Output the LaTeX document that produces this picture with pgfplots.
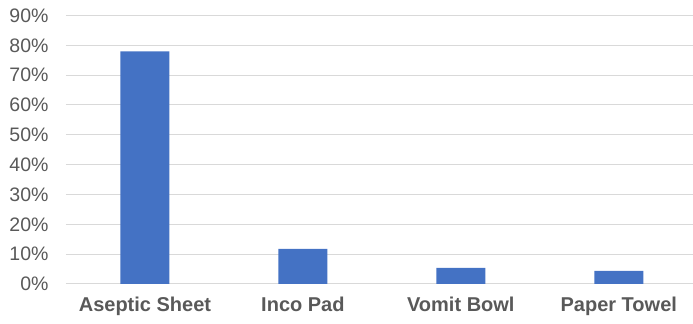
\documentclass[border=0pt]{standalone}
\usepackage{pgfplots}
\pgfplotsset{compat=1.18}
\usepackage{fontspec}
\setmainfont{Liberation Sans}
\definecolor{barblue}{HTML}{4472C4}
\definecolor{gridgray}{HTML}{D9D9D9}
\definecolor{textgray}{HTML}{595959}
\begin{document}
\begin{tikzpicture}
\begin{axis}[
  scale only axis,
  width=627bp, height=268.5bp,
  xmin=-0.5, xmax=3.47,
  ymin=0, ymax=90,
  ytick={0,10,...,90},
  yticklabel={\pgfmathprintnumber{\tick}\%},
  /pgf/number format/assume math mode=true,
  xtick=data,
  xticklabels={Aseptic Sheet, Inco Pad, Vomit Bowl, Paper Towel},
  axis line style={draw=none},
  major tick length=0pt,
  ymajorgrids,
  grid style={gridgray, line width=1bp},
  yticklabel style={font=\fontsize{19.5bp}{22bp}\selectfont, text=textgray, xshift=-14bp},
  xticklabel style={font=\fontsize{20bp}{22bp}\selectfont\bfseries, text=textgray, yshift=-9bp},
  ybar,
  bar width=0.31,
  clip=false,
]
\addplot[fill=barblue, draw=none] coordinates {(0,78) (1,11.8) (2,5.4) (3,4.4)};
\end{axis}
\pgfresetboundingbox
\path (current axis.south west) ++(-66bp,-40bp) coordinate (bl);
\path (current axis.north east) ++(0bp,15.5bp) coordinate (tr);
\path[use as bounding box] (bl) rectangle (tr);
\end{tikzpicture}
\end{document}
